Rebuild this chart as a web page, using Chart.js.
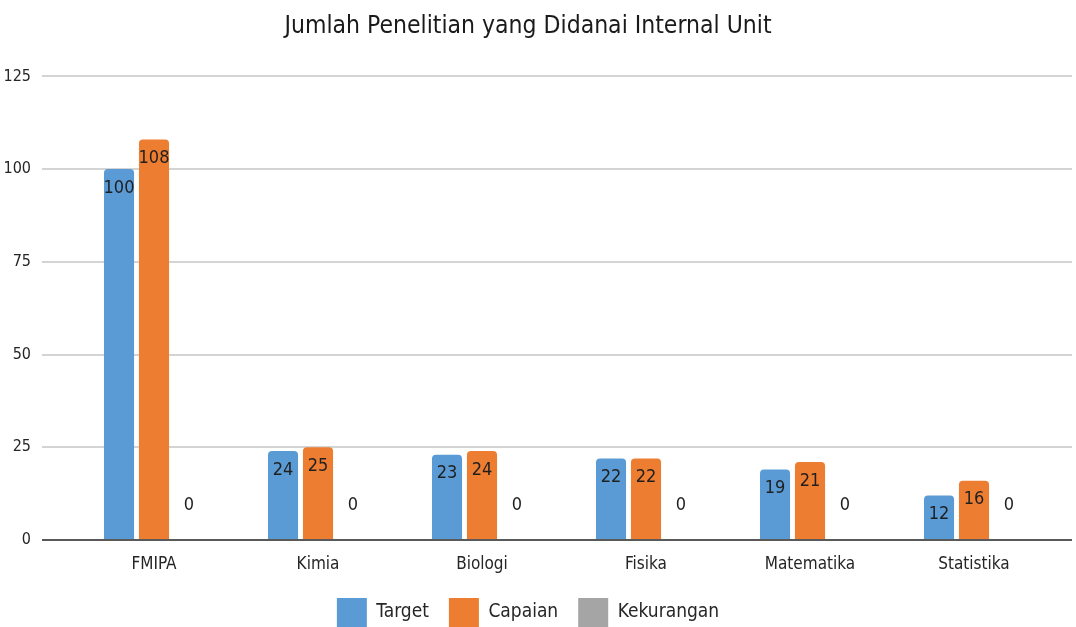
<!DOCTYPE html>
<html>
<head>
<meta charset="utf-8">
<script src="https://cdn.jsdelivr.net/npm/chart.js@4"></script>
<style>
  html, body { margin: 0; padding: 0; background: #fff; }
  #wrap { width: 1076px; height: 627px; }
</style>
</head>
<body>
<div id="wrap"><canvas id="barChart"></canvas></div>
<script>
const categories = ['FMIPA', 'Kimia', 'Biologi', 'Fisika', 'Matematika', 'Statistika'];
const target = [100, 24, 23, 22, 19, 12];
const capaian = [108, 25, 24, 22, 21, 16];
const kekurangan = [0, 0, 0, 0, 0, 0];
const yTicks = [0, 25, 50, 75, 100, 125];

const FONT = "'Liberation Sans Narrow', 'DejaVu Sans Condensed', 'Roboto Condensed', sans-serif";

// value labels: inside the top of a bar, or floating above the axis for zero
const valueLabels = {
  id: 'valueLabels',
  afterDatasetsDraw(chart) {
    const ctx = chart.ctx;
    ctx.save();
    ctx.font = '18px ' + FONT;
    ctx.fillStyle = '#1f1f1f';
    ctx.textAlign = 'center';
    ctx.textBaseline = 'middle';
    chart.data.datasets.forEach((ds, i) => {
      const meta = chart.getDatasetMeta(i);
      meta.data.forEach((bar, j) => {
        const v = ds.data[j];
        const y = v > 0 ? bar.y + 19 : bar.base - 35;
        ctx.fillText(String(v), bar.x, y);
      });
    });
    ctx.restore();
  }
};

// gridlines run a bit past the right edge of the plot area
const gridTail = {
  id: 'gridTail',
  beforeDatasetsDraw(chart) {
    const ctx = chart.ctx;
    const y = chart.scales.y;
    const right = chart.chartArea.right;
    ctx.save();
    ctx.lineWidth = 2;
    yTicks.forEach(v => {
      const py = Math.round(y.getPixelForValue(v));
      ctx.strokeStyle = v === 0 ? '#595959' : '#d4d4d4';
      ctx.beginPath();
      ctx.moveTo(right - 4, py);
      ctx.lineTo(right + 16, py);
      ctx.stroke();
    });
    ctx.restore();
  }
};

new Chart(document.getElementById('barChart'), {
  type: 'bar',
  data: {
    labels: categories,
    datasets: [
      { label: 'Target', data: target, backgroundColor: '#5b9bd5' },
      { label: 'Capaian', data: capaian, backgroundColor: '#ed7d31' },
      { label: 'Kekurangan', data: kekurangan, backgroundColor: '#a5a5a5' }
    ]
  },
  options: {
    responsive: true,
    maintainAspectRatio: false,
    animation: false,
    layout: { padding: { left: 0, right: 20, top: 0, bottom: -10 } },
    datasets: {
      bar: {
        categoryPercentage: 0.64,
        barPercentage: 0.86,
        borderRadius: { topLeft: 4, topRight: 4 },
        borderSkipped: 'bottom'
      }
    },
    plugins: {
      title: {
        display: true,
        text: 'Jumlah Penelitian yang Didanai Internal Unit',
        color: '#1a1a1a',
        font: { family: FONT, size: 24.5, weight: 'normal' },
        padding: { top: 12, bottom: 35 }
      },
      legend: {
        position: 'bottom',
        labels: {
          color: '#262626',
          font: { family: FONT, size: 19 },
          boxWidth: 30,
          boxHeight: 29,
          padding: 20
        }
      },
      tooltip: { enabled: false }
    },
    scales: {
      x: {
        grid: { display: false, drawTicks: false },
        border: { display: false },
        ticks: { color: '#262626', font: { family: FONT, size: 17 }, padding: 14 },
        afterFit(scale) { scale.height = 38; }
      },
      y: {
        min: 0,
        max: 125,
        afterBuildTicks(scale) { scale.ticks = yTicks.map(v => ({ value: v })); },
        grid: {
          color: ctx => ctx.tick && ctx.tick.value === 0 ? '#595959' : '#d4d4d4',
          lineWidth: 2,
          tickLength: 30
        },
        border: { display: false },
        ticks: { color: '#262626', font: { family: FONT, size: 16 }, padding: 11 },
        afterFit(scale) { scale.width = 72; }
      }
    }
  },
  plugins: [gridTail, valueLabels]
});
</script>
</body>
</html>
